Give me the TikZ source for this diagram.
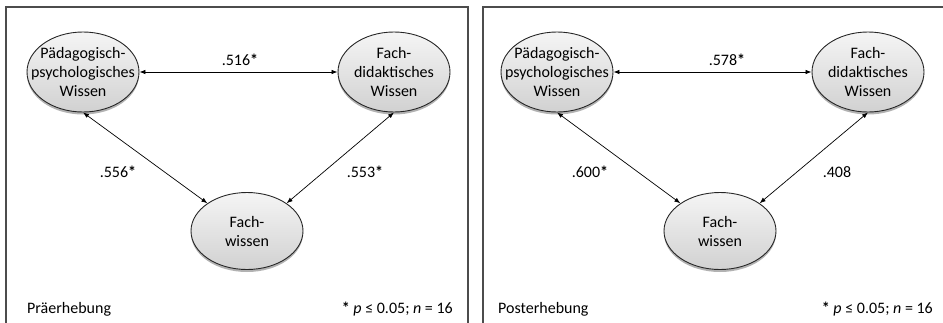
\documentclass[tikz,border=0pt]{standalone}
\usepackage{fontspec}
\setmainfont{Carlito}
\usetikzlibrary{arrows.meta,shadows,shapes.geometric}

\tikzset{
  oval/.style={ellipse, draw=black!85, line width=0.9pt,
    minimum width=112pt, minimum height=80pt, inner sep=0pt,
    top color=gray!8, bottom color=gray!36,
    drop shadow={shadow xshift=0pt, shadow yshift=-2.5pt, opacity=0.3, fill=black}},
  ovaltext/.style={align=center, font=\fontsize{16}{19}\selectfont, inner sep=0pt},
  link/.style={{Latex[length=6pt,width=4.5pt]}-{Latex[length=6pt,width=4.5pt]},
    line width=0.7pt, black},
  coef/.style={font=\fontsize{16}{19}\selectfont, anchor=base, inner sep=0pt},
  note/.style={font=\fontsize{16}{19}\selectfont, inner sep=0pt},
  panel/.style={draw=black!70, line width=1.5pt},
}

\begin{document}
\begin{tikzpicture}[x=1pt, y=-1pt]
  \useasboundingbox (0,0) rectangle (943,322);
  \clip (0,0) rectangle (943,322);

  % panel frames (open at the bottom / right)
  \draw[panel] (6,340) -- (6,7) -- (468,7) -- (468,340);
  \draw[panel] (483,340) -- (483,7) -- (960,7);

  % ---------- pre-test ----------
  \node[oval] (ppA) at (83,72) {};
  \node[ovaltext] (ppAt) at (ppA) {Pädagogisch-\\psychologisches\\Wissen};
  \node[oval] (fdA) at (394,72) {};
  \node[ovaltext] (fdAt) at (fdA) {Fach-\\didaktisches\\Wissen};
  \node[oval, minimum height=77pt] (fwA) at (247,231) {};
  \node[ovaltext] (fwAt) at (fwA) {Fach-\\wissen};

  \draw[link] (ppA.east) -- (fdA.west);
  \draw[link] (ppA.south) -- (fwA.145);
  \draw[link] (fdA.south) -- (fwA.35);

  \node[coef] (rA1) at (240,65) {.516\textbf{*}};
  \node[coef] (rA2) at (118,177) {.556\textbf{*}};
  \node[coef] (rA3) at (365,177) {.553\textbf{*}};

  \node[note, anchor=base west] (tagA) at (27,313) {Präerhebung};
  \node[note, anchor=base east] (sigA) at (453,313)
    {\textbf{*} \textit{p} ≤ 0.05; \textit{n} = 16};

  % ---------- post-test ----------
  \node[oval] (ppB) at (557,72) {};
  \node[ovaltext] (ppBt) at (ppB) {Pädagogisch-\\psychologisches\\Wissen};
  \node[oval] (fdB) at (868,72) {};
  \node[ovaltext] (fdBt) at (fdB) {Fach-\\didaktisches\\Wissen};
  \node[oval, minimum height=77pt] (fwB) at (720,231) {};
  \node[ovaltext] (fwBt) at (fwB) {Fach-\\wissen};

  \draw[link] (ppB.east) -- (fdB.west);
  \draw[link] (ppB.south) -- (fwB.145);
  \draw[link] (fdB.south) -- (fwB.35);

  \node[coef] (rB1) at (727,65) {.578\textbf{*}};
  \node[coef] (rB2) at (590,177) {.600\textbf{*}};
  \node[coef] (rB3) at (837,177) {.408};

  \node[note, anchor=base west] (tagB) at (498,313) {Posterhebung};
  \node[note, anchor=base east] (sigB) at (933,313)
    {\textbf{*} \textit{p} ≤ 0.05; \textit{n} = 16};
\end{tikzpicture}
\end{document}
